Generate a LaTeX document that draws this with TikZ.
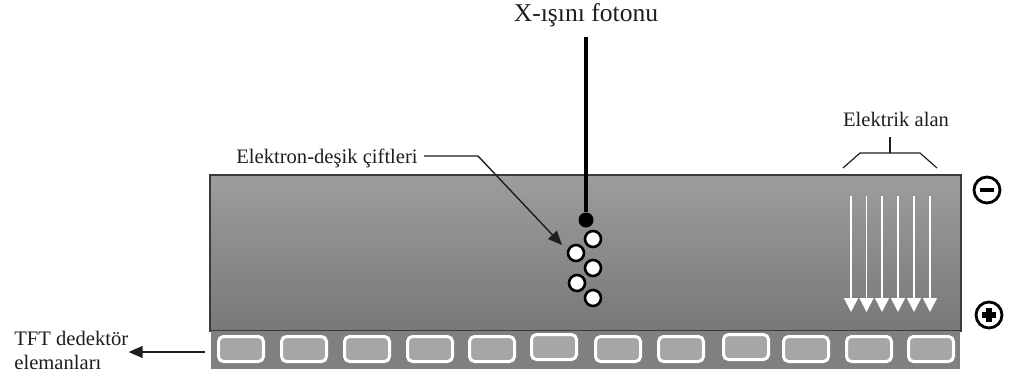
\documentclass[tikz,border=0pt]{standalone}
\usepackage{fontspec}
\setmainfont{Liberation Serif}
\usetikzlibrary{arrows.meta}
\definecolor{layertop}{HTML}{9D9D9D}
\definecolor{layerbot}{HTML}{787878}
\definecolor{layeredge}{HTML}{3A3A3A}
\definecolor{stripgray}{HTML}{808080}
\definecolor{cellgray}{HTML}{A6A6A6}
\definecolor{inkgray}{HTML}{1E1E1E}
\begin{document}
\begin{tikzpicture}[x=0.5pt,y=-0.5pt,
  font=\fontsize{10.3}{12}\selectfont,
  label/.style={text=inkgray, inner sep=1pt},
  pointer/.style={line width=0.7pt, draw=inkgray, -{Triangle[length=7pt,width=6pt]}},
  carrier/.style={circle, draw=black, fill=white, line width=1.3pt, minimum size=8pt, inner sep=0pt},
  hitdot/.style={circle, fill=black, minimum size=8pt, inner sep=0pt},
  cell/.style={draw=white, fill=cellgray, line width=1.5pt, rounded corners=2.5pt},
  fieldline/.style={draw=white, line width=0.7pt, -{Triangle[length=7pt,width=7pt,fill=white]}},
  bracket/.style={line width=0.6pt, draw=inkgray},
  sign/.style={circle, draw=black, line width=1.4pt, minimum size=13pt, inner sep=0pt}]
\useasboundingbox (0,0) rectangle (1016,381);

% photoconductor layer
\path[top color=layertop, bottom color=layerbot] (210,175) rectangle (961,331);
\draw[draw=layeredge, line width=1pt] (210,175) rectangle (961,331);

% TFT detector strip
\fill[stripgray] (211,331) rectangle (960,369);
\foreach \x/\dy in {217/0,280/0,343/0,406/0,468/0,530/-2,594/0,657/0,722/-2,782/0,845/0,907/0}
  \draw[cell] (\x+1.5,336.5+\dy) rectangle ++(45,25);

% incoming X-ray photon
\node[label, anchor=base, font=\fontsize{12.8}{14}\selectfont] (xray) at (586,21) {X-ışını fotonu};
\coordinate (ray) at (586,37);
\node[hitdot, minimum size=7.5pt] (hit) at (586,220) {};
\draw[line width=1.8pt] (ray) -- (hit);

% electron-hole pairs
\node[carrier] (c1) at (593,239) {};
\node[carrier] (c2) at (576,253) {};
\node[carrier] (c3) at (593,268) {};
\node[carrier] (c4) at (577,283) {};
\node[carrier] (c5) at (593,298) {};

\node[label, anchor=base] (pairs) at (327,163) {Elektron-deşik çiftleri};
\coordinate (pbend) at (478,156);
\coordinate (ptip) at (562,245);
\draw[pointer] ([xshift=2pt]pairs.east |- pbend) -- (pbend) -- (ptip);

% electric field
\node[label, anchor=base] (efield) at (896,126) {Elektrik alan};
\coordinate (btop) at (890,137);
\coordinate (bmid) at (890,153);
\coordinate (bl) at (860,153);
\coordinate (br) at (920,153);
\coordinate (blend) at (843,168);
\coordinate (brend) at (937,168);
\draw[bracket] (btop) -- (bmid);
\draw[bracket] (blend) -- (bl) -- (br) -- (brend);
\foreach \x in {851,866.5,882,898,914,930}
  \draw[fieldline] (\x,196) -- (\x,312);

% electrode polarity
\node[sign] (minus) at (987,190) {};
\fill[black] ([xshift=-3.6pt,yshift=-1.2pt]minus.center) rectangle ([xshift=3.6pt,yshift=1.2pt]minus.center);
\node[sign] (plus) at (989,315) {};
\fill[black] ([xshift=-3.6pt,yshift=-1.3pt]plus.center) rectangle ([xshift=3.6pt,yshift=1.3pt]plus.center);
\fill[black] ([xshift=-1.3pt,yshift=-3.6pt]plus.center) rectangle ([xshift=1.3pt,yshift=3.6pt]plus.center);

% TFT detector label
\node[label, anchor=north west, align=left, inner sep=2pt] (tft) at (10,327) {TFT dedektör\\elemanları};
\coordinate (tftfrom) at (205,352);
\draw[pointer] (tftfrom) -- ([xshift=-2pt]tftfrom -| tft.east);
\end{tikzpicture}
\end{document}
